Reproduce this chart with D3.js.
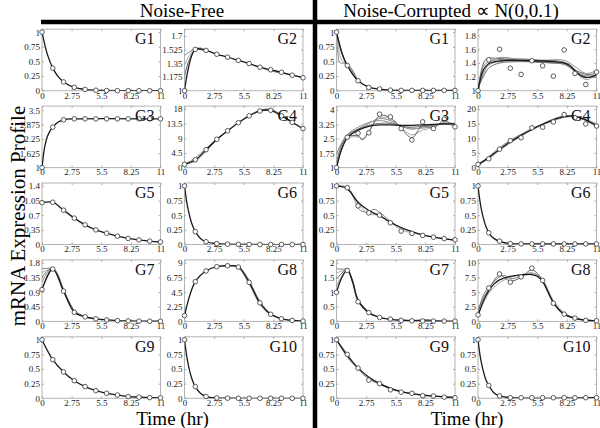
<!DOCTYPE html>
<html><head><meta charset="utf-8">
<script src="https://cdn.jsdelivr.net/npm/d3@7"></script>
<style>body{margin:0;background:#fff}svg{display:block}</style>
</head><body>
<svg id="c" width="600" height="428"></svg>
<script>
// ---------- data ----------
const time = [0,1,2,3,4,5,6,7,8,9,10,11];
const xTicks = [0,2.75,5.5,8.25,11];
const genes = ["G1","G2","G3","G4","G5","G6","G7","G8","G9","G10"];
const halves = ["Noise-Free","Noise-Corrupted \u221D N(0,0.1)"];

// y tick ranges (lowest and highest tick) per gene
const nfRange = [[0,1],[1,1.7],[1,3.5],[0,18],[0,1.4],[0,1],[0,1.8],[0,9],[0,1],[0,1]];
const ncRange = [[0,1],[1,1.8],[1,4],[0,20],[0,1],[0,1],[0,2],[0,10],[0,1],[0,1]];

// noise-free observations (circles)
const nfG1 = [1,0.385,0.15,0.057,0.022,0.008,0.003,0.001,0,0,0,0];
const nfG2 = [1,1.527,1.514,1.465,1.428,1.387,1.346,1.30,1.267,1.235,1.198,1.165];
const nfG3 = [1,2.76,3.08,3.12,3.12,3.12,3.12,3.12,3.12,3.12,3.12,3.12];
const nfG4 = [1,2.4,5.5,8.7,11.3,13.8,15.9,17.4,17.6,15.9,13.9,12.0];
const nfG5 = [1.0,1.01,0.82,0.63,0.47,0.35,0.27,0.2,0.145,0.11,0.08,0.06];
const nfG6 = [1,0.22,0.047,0.015,0.005,0.002,0.001,0,0,0,0,0];
const nfG7 = [0.98,1.61,0.93,0.28,0.14,0.08,0.045,0.025,0.015,0.01,0.005,0.005];
const nfG8 = [0.9,6.1,7.75,8.4,8.55,8.35,6.0,2.85,1.1,0.4,0.15,0.05];
const nfG9 = [1,0.66,0.45,0.30,0.2,0.13,0.085,0.056,0.03,0.02,0.012,0.008];
const nfG10 = [1,0.2,0.03,0.006,0.002,0,0,0,0,0,0,0];

// noise-free fitted curves where they differ in shape from the circles ([t, value])
const nfFitG1 = [[0,1],[0.5,0.62],[1,0.385],[1.5,0.24],[2,0.15],[3,0.057],[4,0.022],[5,0.008],[6,0.003],[7,0.001],[8,0],[11,0]];
const nfFitG3 = [[0,1],[0.25,1.9],[0.5,2.35],[0.75,2.6],[1,2.76],[1.5,2.98],[2,3.08],[3,3.12],[11,3.12]];
const nfFitG6 = [[0,1],[0.25,0.68],[0.5,0.47],[0.75,0.32],[1,0.22],[1.5,0.1],[2,0.047],[3,0.015],[4,0.005],[5,0.002],[6,0],[11,0]];
const nfFitG10 = [[0,1],[0.25,0.67],[0.5,0.45],[0.75,0.3],[1,0.2],[1.5,0.08],[2,0.03],[3,0.006],[4,0.002],[5,0],[11,0]];

// noise-free ensemble (grey) curves
const nfEnsG2 = [
  [[0,1.45],[0.5,1.5],[1,1.54],[1.5,1.545],[2,1.515]],
  [[0,1.33],[0.5,1.46],[1,1.535],[2,1.514]],
  [[0,1.18],[0.4,1.38],[1,1.52],[2,1.51]],
  [[7,1.30],[8,1.25],[9,1.225],[10,1.2],[11,1.17]]];
const nfEnsG4 = [
  [[0,1],[1,2.0],[2,5.0],[3,8.5],[4,11.2]],
  [[0,1],[1,3.0],[2,5.9],[3,8.8],[4,11.3]],
  [[6,15.9],[7,17.6],[8,17.9],[9,16.2],[10,14]]];
const nfEnsG7 = [
  [[0,1.62],[0.5,1.63],[1,1.63],[1.5,1.42],[2,0.95],[3,0.3]],
  [[0,1.5],[0.5,1.58],[1,1.63],[1.5,1.42],[2,0.96],[3,0.3]],
  [[0,1.35],[0.5,1.55],[1,1.62],[1.5,1.4],[2,0.95],[3,0.29]],
  [[0,1.2],[0.5,1.5],[1,1.62],[1.5,1.38],[2,0.92],[3,0.27]],
  [[1.5,1.35],[2,1.0],[2.5,0.6],[3,0.33],[4,0.15],[5,0.08]]];
const nfEnsG8 = [
  [[4,8.55],[5,8.5],[5.5,7.6],[6,6.3],[7,3.1],[8,1.2],[9,0.45]],
  [[4,8.5],[5,8.2],[6,5.7],[7,2.6],[8,1.0],[9,0.4]]];

// noise-corrupted observations (circles)
const ncG1 = [1,0.43,0.17,0.056,0.03,0.01,0.005,0.005,0.005,0.005,0.005,0.005];
const ncG2 = [1.0,1.447,1.60,1.325,1.235,1.433,1.36,1.21,1.59,1.25,1.09,1.27];
const ncG3 = [1,2.58,2.79,2.81,3.78,3.64,3.03,2.44,3.38,3.03,3.52,3.12];
const ncG4 = [1.1,3.0,6.3,9.2,10.2,13.6,13.8,15.6,18.1,17.0,14.9,14.2];
const ncG5 = [1,0.97,0.66,0.54,0.5,0.37,0.23,0.19,0.155,0.125,0.1,0.08];
const ncG6 = [1,0.2,0.057,0.015,0.01,0.01,0.01,0.01,0.01,0.01,0.01,0.01];
const ncG7 = [0.99,1.74,0.67,0.30,0.135,0.08,0.035,0.02,0.015,0.01,0.01,0.01];
const ncG8 = [1.1,5.7,8.1,6.7,7.6,9.1,7.0,3.1,1.24,0.56,0.17,0.1];
const ncG9 = [1,0.75,0.515,0.31,0.25,0.145,0.105,0.085,0.045,0.04,0.02,0.01];
const ncG10 = [1,0.22,0.04,0.01,0.01,0.01,0.01,0.01,0.01,0.01,0.01,0.01];

// noise-corrupted best fits (black)
const ncFitG1 = [[0,1],[0.5,0.64],[1,0.43],[1.5,0.28],[2,0.17],[3,0.06],[4,0.025],[5,0.01],[6,0.005],[11,0.005]];
const ncFitG2 = [[0,1],[0.5,1.3],[1,1.39],[2,1.43],[3,1.44],[4,1.44],[5,1.435],[6,1.43],[7,1.42],[8,1.40],[8.5,1.36],[9,1.29],[9.5,1.22],[10,1.19],[10.5,1.2],[11,1.23]];
const ncFitG3 = [[0,1],[0.5,2.0],[1,2.55],[2,2.95],[3,3.15],[4,3.22],[5,3.22],[6,3.2],[7,3.2],[8,3.22],[9,3.25],[10,3.27],[11,3.28]];
const ncFitG4 = [[0,1],[1,3.4],[2,6.2],[3,8.8],[4,11.0],[5,13.0],[6,14.8],[7,16.3],[8,17.4],[8.5,17.6],[9,17.5],[10,16.3],[11,14.4]];
const ncFitG5 = [[0,1],[1,0.95],[2,0.72],[3,0.58],[4,0.49],[5,0.38],[6,0.29],[7,0.22],[8,0.165],[9,0.125],[10,0.097],[11,0.075]];
const ncFitG6 = [[0,1],[0.25,0.66],[0.5,0.45],[0.75,0.3],[1,0.2],[1.5,0.1],[2,0.055],[3,0.015],[4,0.01],[11,0.01]];
const ncFitG7 = [[0,1],[0.5,1.5],[1,1.76],[1.5,1.35],[2,0.72],[3,0.3],[4,0.14],[5,0.07],[6,0.04],[7,0.03],[8,0.02],[9,0.015],[10,0.01],[11,0.01]];
const ncFitG8 = [[0,1],[0.5,3.5],[1,5.2],[1.5,6.4],[2,7.1],[3,7.7],[4,7.95],[5,8.0],[5.5,7.7],[6,6.8],[6.5,5.0],[7,3.2],[7.5,2.0],[8,1.2],[9,0.5],[10,0.2],[11,0.1]];
const ncFitG9 = [[0,1],[1,0.73],[2,0.52],[3,0.36],[4,0.25],[5,0.17],[6,0.115],[7,0.08],[8,0.055],[9,0.037],[10,0.025],[11,0.017]];
const ncFitG10 = [[0,1],[0.25,0.67],[0.5,0.46],[0.75,0.31],[1,0.22],[1.5,0.09],[2,0.04],[3,0.01],[11,0.01]];

// noise-corrupted ensembles (grey)
const ncEnsG1 = [
  [[0,1],[0.15,0.6],[0.3,0.48],[0.7,0.47],[1,0.45],[1.5,0.3],[2,0.17]],
  [[0,1],[0.2,0.7],[0.5,0.52],[1,0.44],[2,0.17]],
  [[0,1],[0.3,0.8],[0.6,0.6],[1,0.43],[1.3,0.4],[2,0.16]],
  [[0,1],[0.5,0.65],[1,0.44],[1.2,0.42],[1.5,0.33],[2,0.17]]];
const ncEnsG2 = [
  [[0,1],[0.5,1.35],[1,1.42],[2,1.45],[4,1.46],[6,1.44],[7.5,1.43],[8.5,1.38],[9.3,1.26],[10,1.22],[11,1.27]],
  [[0,1],[0.5,1.25],[1,1.37],[2,1.42],[4,1.43],[6,1.42],[8,1.41],[8.8,1.33],[9.5,1.2],[10.2,1.16],[11,1.25]],
  [[0,1],[0.7,1.45],[1.5,1.47],[3,1.45],[5,1.42],[7,1.40],[8.3,1.39],[9,1.30],[10,1.24],[11,1.22]],
  [[0,1],[1,1.4],[2,1.48],[4,1.45],[6,1.44],[8,1.44],[9,1.35],[10,1.25],[11,1.29]],
  [[0,1.05],[0.5,1.2],[1,1.33],[2,1.4],[4,1.42],[6,1.41],[8,1.38],[9,1.28],[10,1.2],[11,1.2]]];
const ncEnsG3 = [
  [[0,1],[1,2.6],[2,3.0],[3,3.3],[4,3.55],[5,3.45],[6,3.15],[7,3.0],[8,3.1],[9,3.2],[10,3.25],[11,3.2]],
  [[0,1],[1,2.5],[2,2.6],[2.5,2.5],[3,2.9],[4,3.6],[5,3.55],[6,3.1],[7,2.7],[8,2.95],[9,3.1],[10,3.35],[11,3.15]],
  [[0,1.3],[0.5,2.2],[1,2.6],[2,2.65],[2.4,2.45],[3,2.85],[4,3.7],[5,3.6],[6,3.05],[7,2.55],[8,3.2],[9,3.05],[10,3.45],[11,3.12]],
  [[0,1],[1,2.7],[2,3.1],[3,3.35],[4,3.45],[5,3.35],[6,3.2],[7,3.05],[8,3.05],[9,3.15],[10,3.3],[11,3.25]],
  [[0,1.7],[0.5,2.3],[1,2.7],[2,3.0],[3,3.2],[4,3.3],[5,3.3],[6,3.15],[7,3.1],[8,3.15],[9,3.2],[10,3.3],[11,3.3]]];
const ncEnsG4 = [
  [[0,1],[1,3.8],[2,6.8],[3,9.3],[4,11.4],[5,13.3],[6,15.0],[7,16.6],[8,17.7],[9,17.6],[10,16],[11,14.0]],
  [[0,1],[1,3.0],[2,5.8],[3,8.4],[4,10.7],[5,12.8],[6,14.6],[7,16.0],[8,17.1],[9,17.3],[10,16.5],[11,15.0]]];
const ncEnsG5 = [
  [[0,1],[1,0.97],[1.7,0.75],[2,0.62],[2.5,0.56],[3,0.56],[3.5,0.6],[4,0.55],[5,0.4],[6,0.28],[7,0.22]],
  [[0,1],[1,0.98],[2,0.7],[3,0.52],[4,0.5],[5,0.38],[6,0.25],[7,0.2],[8,0.16],[9,0.13],[10,0.1],[11,0.08]]];
const ncEnsG7 = [
  [[0,1.8],[0.5,1.78],[1,1.78],[1.5,1.35],[2,0.75],[3,0.3]],
  [[0,1.65],[0.5,1.72],[1,1.76],[1.5,1.3],[2,0.7],[3,0.29]],
  [[0,1.45],[0.5,1.65],[1,1.77],[1.5,1.4],[2,0.72],[3,0.31]],
  [[0,1.2],[0.5,1.55],[1,1.75],[1.5,1.32],[2,0.68],[3,0.28]],
  [[6,0.04],[7,0.03],[8,0.06],[8.5,0.06],[9,0.03],[10,0.01]]];
const ncEnsG8 = [
  [[0,1.3],[0.5,4.5],[1,5.8],[2,7.6],[2.5,7.8],[3,7.3],[4,7.7],[5,8.3],[6,7.0],[6.5,5.2],[7,3.3],[8,1.3],[9,0.5],[10,0.2],[11,0.1]],
  [[0,1],[1,4.8],[2,6.6],[3,7.5],[4,8.0],[5,8.2],[5.5,8.0],[6,7.2],[7,3.6],[8,1.5],[9,0.6],[10,0.25],[11,0.1]],
  [[0,2],[0.5,4],[1,5.5],[2,7.9],[3,6.9],[4,7.5],[5,8.8],[6,7.0],[7,3.1],[8,1.3],[9,0.6],[10,0.2],[11,0.1]]];
const ncEnsG9 = [
  [[0,1],[1,0.76],[2,0.5],[3,0.33],[4,0.24],[5,0.16],[6,0.11],[7,0.08],[8,0.05],[9,0.04],[10,0.02],[11,0.01]],
  [[0,1],[1,0.7],[2,0.5],[3,0.37],[4,0.26],[5,0.18],[6,0.12],[7,0.08],[8,0.06],[9,0.04],[10,0.03],[11,0.02]]];

const nfObs = [nfG1,nfG2,nfG3,nfG4,nfG5,nfG6,nfG7,nfG8,nfG9,nfG10];
const ncObs = [ncG1,ncG2,ncG3,ncG4,ncG5,ncG6,ncG7,ncG8,ncG9,ncG10];
const nfFits = [nfFitG1,null,nfFitG3,null,null,nfFitG6,null,null,null,nfFitG10];
const ncFits = [ncFitG1,ncFitG2,ncFitG3,ncFitG4,ncFitG5,ncFitG6,ncFitG7,ncFitG8,ncFitG9,ncFitG10];
const nfEns = [[],nfEnsG2,[],nfEnsG4,[],[],nfEnsG7,nfEnsG8,[],[]];
const ncEns = [ncEnsG1,ncEnsG2,ncEnsG3,ncEnsG4,ncEnsG5,[],ncEnsG7,ncEnsG8,ncEnsG9,[]];

// ---------- layout ----------
const FONT = "'Liberation Serif','Times New Roman',serif";
const svg = d3.select("#c");
const panelW = 118.5, panelH = 61.5;
const colX = [42, 184.5, 336.5, 478];
const rowY = [29.2, 106.1, 183, 259.9, 336.8];
const greys = ["#808080","#a8a8a8","#606060","#949494","#707070"];
const fmt = v => String(+v.toFixed(4));

function drawPanel(half, gi) {
  const col = half*2 + (gi % 2), row = Math.floor(gi/2);
  const x0 = colX[col], y0 = rowY[row];
  const range = half === 0 ? nfRange[gi] : ncRange[gi];
  const obs = half === 0 ? nfObs[gi] : ncObs[gi];
  let fit = half === 0 ? nfFits[gi] : ncFits[gi];
  if (!fit) fit = time.map((t,i)=>[t, obs[i]]);
  const ens = half === 0 ? nfEns[gi] : ncEns[gi];

  const x = d3.scaleLinear().domain([0,11]).range([x0, x0+panelW]);
  const [lo, hi] = range;
  const y = d3.scaleLinear().domain([lo, hi*1.05]).range([y0+panelH, y0]);
  const yTicks = d3.range(5).map(i => lo + (hi-lo)*i/4);

  const g = svg.append("g");
  const cid = "clip"+half+"_"+gi;
  g.append("clipPath").attr("id", cid).append("rect")
    .attr("x", x0).attr("y", y0).attr("width", panelW).attr("height", panelH);
  g.append("rect").attr("x", x0).attr("y", y0).attr("width", panelW).attr("height", panelH)
    .attr("fill", "#fff").attr("stroke", "#b4b4b4").attr("stroke-width", 1);

  const styleAxis = sel => {
    sel.select(".domain").remove();
    sel.selectAll("line").attr("stroke", "#aaa");
    sel.selectAll("text").attr("font-family", FONT).attr("font-size", 9).attr("fill", "#222");
  };
  g.append("g").attr("transform", `translate(${x0},0)`)
    .call(d3.axisLeft(y).tickValues(yTicks).tickSizeInner(-2).tickSizeOuter(0).tickPadding(2).tickFormat(fmt))
    .call(styleAxis);
  g.append("g").attr("transform", `translate(${x0+panelW},0)`)
    .call(d3.axisRight(y).tickValues(yTicks).tickSizeInner(-2).tickSizeOuter(0).tickFormat(""))
    .call(styleAxis);
  g.append("g").attr("transform", `translate(0,${y0+panelH})`)
    .call(d3.axisBottom(x).tickValues(xTicks).tickSizeInner(-2).tickSizeOuter(0).tickPadding(1.5).tickFormat(fmt))
    .call(styleAxis);
  g.append("g").attr("transform", `translate(0,${y0})`)
    .call(d3.axisTop(x).tickValues(xTicks).tickSizeInner(-2).tickSizeOuter(0).tickFormat(""))
    .call(styleAxis);

  const line = d3.line().x(d => x(d[0])).y(d => y(d[1])).curve(d3.curveCatmullRom.alpha(0.5));
  const plot = g.append("g").attr("clip-path", `url(#${cid})`);
  ens.forEach((e, k) => {
    plot.append("path").attr("d", line(e)).attr("fill", "none")
      .attr("stroke", greys[k % greys.length]).attr("stroke-width", 1);
  });
  plot.append("path").attr("d", line(fit)).attr("fill", "none")
    .attr("stroke", "#1a1a1a").attr("stroke-width", 1.3);

  g.selectAll("circle.o").data(time).join("circle").attr("class","o")
    .attr("cx", (t) => x(t)).attr("cy", (t,i) => y(obs[i])).attr("r", 2.3)
    .attr("fill", "#fff").attr("stroke", "#333").attr("stroke-width", 0.8);

  g.append("text").attr("x", x0+panelW-6).attr("y", y0+15)
    .attr("text-anchor", "end").attr("font-family", FONT).attr("font-size", 16)
    .attr("fill", "#111").text(genes[gi]);
}

for (let h = 0; h < 2; h++) for (let gi = 0; gi < 10; gi++) drawPanel(h, gi);

// headers and separators
svg.append("line").attr("x1", 41).attr("x2", 600).attr("y1", 22).attr("y2", 22)
  .attr("stroke", "#000").attr("stroke-width", 4.5);
svg.append("line").attr("x1", 315).attr("x2", 315).attr("y1", 0).attr("y2", 428)
  .attr("stroke", "#000").attr("stroke-width", 4.5);
const halfCenter = [182, 451];
halves.forEach((t, i) => {
  svg.append("text").attr("x", halfCenter[i]).attr("y", 17).attr("text-anchor", "middle")
    .attr("font-family", FONT).attr("font-size", 19).attr("fill", "#000").text(t);
});
[172.5, 467].forEach(cx => {
  svg.append("text").attr("x", cx).attr("y", 425).attr("text-anchor", "middle")
    .attr("font-family", FONT).attr("font-size", 19).attr("fill", "#000").text("Time (hr)");
});
svg.append("text").attr("transform", "translate(25,216) rotate(-90)").attr("text-anchor", "middle")
  .attr("font-family", FONT).attr("font-size", 21).attr("fill", "#000").text("mRNA Expression Profile");
</script>
</body></html>
